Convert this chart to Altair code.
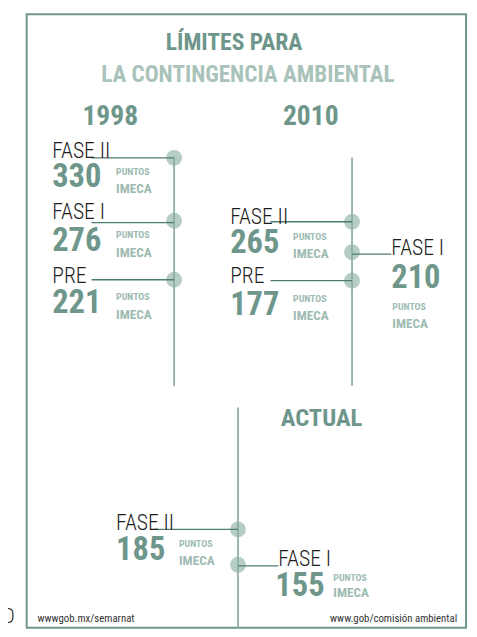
import altair as alt
import pandas as pd

# ---------------- data (text / values) ----------------
title_lines = ["LÍMITES PARA", "LA CONTINGENCIA AMBIENTAL"]
period_names = ["1998", "2010", "ACTUAL"]
phases_1998 = ["FASE II", "FASE I", "PRE"]
imeca_1998 = [330, 276, 221]
phases_2010 = ["FASE II", "FASE I", "PRE"]
imeca_2010 = [265, 210, 177]
phases_actual = ["FASE II", "FASE I"]
imeca_actual = [185, 155]
unit_words = ["PUNTOS", "IMECA"]
footer_texts = ["wwwgob.mx/semarnat", "www.gob/comisión ambiental"]
cut_text = ["AD"]

# ---------------- layout (pixel positions, kept apart from data) ----------------
header_pos = [(112, 122), (316, 122), (327, 428)]
title_pos = [(238, 45, 24, "#6e968b"), (252, 78, 23.5, "#a9c3bb")]
axis_pos = [(177, 155, 387), (358, 155, 387), (242, 409, 633)]
entry_layout = [
    [(155, 93, 155, 53, 155, 53, 185, 118, 172, 191),
     (219, 93, 221, 53, 217, 53, 250, 118, 237, 256),
     (279, 93, 279, 53, 282, 53, 313, 118, 300, 319)],
    [(220, 275, 220, 234, 222, 234, 252, 298, 239, 257),
     (251, 398, 253, 398, 254, 398, 287, 399, 310, 328),
     (280, 275, 280, 234, 282, 234, 315, 298, 302, 320)],
    [(533, 157, 533, 118, 534, 118, 564, 182, 551, 569),
     (569, 283, 570, 283, 570, 280, 601, 339, 585, 602)],
]
border = (27, 9, 474, 633)

TEAL = "#6e968b"
LIGHT = "#9dbbb2"
DOT = "#a9c4bc"
AXIS = "#8dafa5"
CONN = "#4f7c70"
FONT = "Roboto Condensed, Liberation Sans"

phases = [phases_1998, phases_2010, phases_actual]
values = [imeca_1998, imeca_2010, imeca_actual]

dots, conns, labels, nums, units, axes = [], [], [], [], [], []
for p, name in enumerate(period_names):
    ax, y0, y1 = axis_pos[p]
    axes.append({"x": ax, "y": y0, "y2": y1})
    for i, ph in enumerate(phases[p]):
        dy, cx, cy, lx, lb, nx, nb, ux, pb, ib = entry_layout[p][i]
        dots.append({"x": ax, "y": dy})
        conns.append({"x": cx, "x2": ax, "y": cy})
        labels.append({"x": lx, "y": lb, "t": ph})
        nums.append({"x": nx, "y": nb, "t": str(values[p][i])})
        units.append({"x": ux, "y": pb, "t": unit_words[0], "s": 10})
        units.append({"x": ux, "y": ib, "t": unit_words[1], "s": 13.5})

heads = [{"x": header_pos[i][0], "y": header_pos[i][1], "t": n,
          "s": 28 if n != "ACTUAL" else 25, "c": TEAL} for i, n in enumerate(period_names)]
heads += [{"x": title_pos[i][0], "y": title_pos[i][1], "t": t,
           "s": title_pos[i][2], "c": title_pos[i][3]} for i, t in enumerate(title_lines)]

xs = alt.Scale(domain=[8, 477], nice=False, zero=False)
ys = alt.Scale(domain=[8, 637], nice=False, zero=False, reverse=True)
X = lambda f="x": alt.X(f, type="quantitative", scale=xs, axis=None)
Y = lambda f="y": alt.Y(f, type="quantitative", scale=ys, axis=None)

frame = alt.Chart(pd.DataFrame([{"x": border[0], "y": border[1], "x2": border[2], "y2": border[3]}])).mark_rect(
    fill=None, stroke=TEAL, strokeWidth=2
).encode(x=X(), y=Y(), x2="x2", y2="y2")

axis_layer = alt.Chart(pd.DataFrame(axes)).mark_rule(color=AXIS, strokeWidth=1.8).encode(
    x=X(), y=Y(), y2="y2")

dot_layer = alt.Chart(pd.DataFrame(dots)).mark_circle(size=260, color=DOT, opacity=0.85).encode(
    x=X(), y=Y())

conn_layer = alt.Chart(pd.DataFrame(conns)).mark_rule(color=CONN, strokeWidth=1.3).encode(
    x=X(), x2="x2", y=Y())

head_layer = alt.Chart(pd.DataFrame(heads)).mark_text(
    font=FONT, fontWeight="bold", align="center", baseline="alphabetic"
).encode(x=X(), y=Y(), text="t:N", size=alt.Size("s:Q", scale=None), color=alt.Color("c:N", scale=None))

label_layer = alt.Chart(pd.DataFrame(labels)).mark_text(
    font=FONT, fontWeight=300, fontSize=22, color="#1e1e1e", align="left", baseline="alphabetic"
).encode(x=X(), y=Y(), text="t:N")

num_layer = alt.Chart(pd.DataFrame(nums)).mark_text(
    font=FONT, fontWeight="bold", fontSize=33, color=TEAL, align="left", baseline="alphabetic"
).encode(x=X(), y=Y(), text="t:N")

unit_layer = alt.Chart(pd.DataFrame(units)).mark_text(
    font=FONT, fontWeight="bold", color=LIGHT, align="left", baseline="alphabetic"
).encode(x=X(), y=Y(), text="t:N", size=alt.Size("s:Q", scale=None))

foot = pd.DataFrame([
    {"x": 38, "y": 627, "t": footer_texts[0], "a": "l"},
    {"x": 465, "y": 627, "t": footer_texts[1], "a": "r"},
])
foot_l = alt.Chart(foot[foot.a == "l"]).mark_text(
    font=FONT, fontSize=11, color="#333333", align="left", baseline="alphabetic"
).encode(x=X(), y=Y(), text="t:N")
foot_r = alt.Chart(foot[foot.a == "r"]).mark_text(
    font=FONT, fontSize=11, color="#333333", align="right", baseline="alphabetic"
).encode(x=X(), y=Y(), text="t:N")

cut = alt.Chart(pd.DataFrame([{"x": 15, "y": 628, "t": cut_text[0]}])).mark_text(
    font=FONT, fontWeight=300, fontSize=21, color="#1e1e1e", align="right", baseline="alphabetic"
).encode(x=X(), y=Y(), text="t:N")

chart = alt.layer(
    frame, dot_layer, axis_layer, conn_layer, head_layer, label_layer, num_layer, unit_layer,
    foot_l, foot_r, cut
).properties(
    width=469, height=629, padding=0, autosize=alt.AutoSizeParams(type="none")
).configure_view(stroke=None)

chart.save("out.html", embed_options={"renderer": "svg", "actions": False})
